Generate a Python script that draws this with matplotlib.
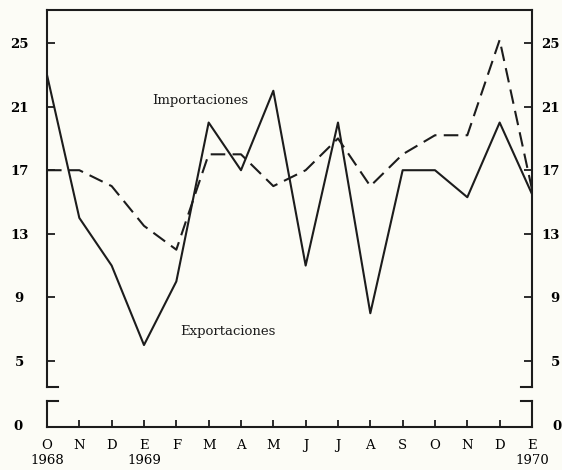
import matplotlib.pyplot as plt

# Datos (oct 1968 - ene 1970)
meses = ['O', 'N', 'D', 'E', 'F', 'M', 'A', 'M', 'J', 'J', 'A', 'S', 'O', 'N', 'D', 'E']
anios = {0: '1968', 3: '1969', 15: '1970'}
exportaciones = [23, 14, 11, 6, 10, 20, 17, 22, 11, 20, 8, 17, 17, 15.3, 20, 15.5]
importaciones = [17, 17, 16, 13.5, 12, 18, 18, 16, 17, 19, 16, 18, 19.2, 19.2, 25.2, 15.8]
yticks = [5, 9, 13, 17, 21, 25]

ink = '#1c1c1c'
paper = '#fcfcf6'
plt.rcParams['font.family'] = 'DejaVu Serif'
plt.rcParams['font.size'] = 9.5

fig = plt.figure(figsize=(5.62, 4.70), dpi=100, facecolor=paper)

# eje superior (5 - 27) y eje inferior (0) con corte
ax = fig.add_axes([0.0836, 0.1766, 0.863, 0.8021])
ax0 = fig.add_axes([0.0836, 0.0915, 0.863, 0.0553])

x = list(range(len(meses)))

for a in (ax, ax0):
    a.set_facecolor(paper)
    a.set_xlim(0, 15)
    for s in a.spines.values():
        s.set_linewidth(1.5)
        s.set_color(ink)

ax.plot(x, exportaciones, color=ink, lw=1.5)
ax.plot(x, importaciones, color=ink, lw=1.5, dashes=(7, 3.5))

ax.set_ylim(3.36, 27.08)
ax.spines['bottom'].set_visible(False)
ax.set_xticks([])
ax.set_yticks(yticks)
ax.set_yticklabels([str(v) for v in yticks], fontweight='bold')
ax.tick_params(axis='y', direction='in', length=6, width=1.3, color=ink,
               left=True, right=True, labelleft=True, labelright=True, pad=20)
for t in ax.yaxis.get_major_ticks():
    t.label1.set_horizontalalignment('center')
    t.label2.set_horizontalalignment('right')
    t.label2.set_fontweight('bold')

ax0.set_ylim(-0.13, 1.51)
ax0.spines['top'].set_visible(False)
ax0.set_yticks([0])
ax0.set_yticklabels(['0'], fontweight='bold')
ax0.tick_params(axis='y', length=0, left=True, right=True,
                labelleft=True, labelright=True, pad=21)
for t in ax0.yaxis.get_major_ticks():
    t.label1.set_horizontalalignment('center')
    t.label2.set_horizontalalignment('right')
    t.label2.set_fontweight('bold')
ax0.set_xticks(x)
ax0.set_xticklabels([m + ('\n' + anios[i] if i in anios else '') for i, m in enumerate(meses)])
ax0.tick_params(axis='x', direction='in', length=5, width=1.3, color=ink, pad=9)
for lab in ax0.get_xticklabels():
    lab.set_linespacing(1.2)

# pequenos trazos del corte del eje
for a, yy in ((ax, 0), (ax0, 1)):
    a.plot([0, 0.022], [yy, yy], transform=a.transAxes, color=ink, lw=1.5, clip_on=False)
    a.plot([0.978, 1], [yy, yy], transform=a.transAxes, color=ink, lw=1.5, clip_on=False)

ax.text(4.73, 21.4, 'Importaciones', ha='center', va='center', fontsize=9.5, color=ink)
ax.text(5.6, 6.86, 'Exportaciones', ha='center', va='center', fontsize=9.5, color=ink)

fig.savefig('out.png', dpi=100, facecolor=paper)
